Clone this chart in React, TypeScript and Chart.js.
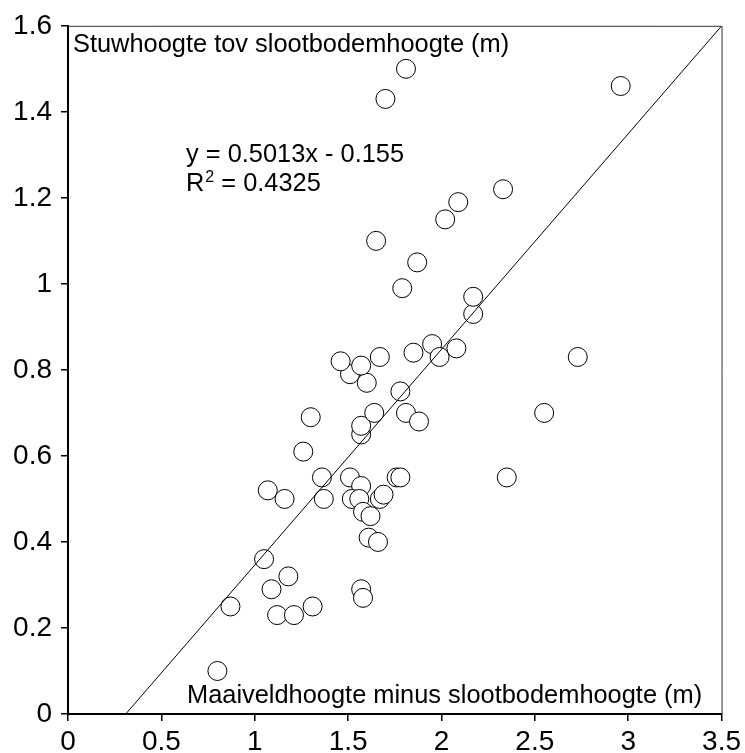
import React, { useEffect, useRef } from "react";
import { Chart, registerables } from "chart.js";

Chart.register(...registerables);

// Scatter data: x = Maaiveldhoogte minus slootbodemhoogte (m), y = Stuwhoogte tov slootbodemhoogte (m)
const xValues = [
  0.8, 0.87, 1.05, 1.09, 1.18, 1.12, 1.21, 1.31, 1.07, 1.16,
  1.36, 1.37, 1.26, 1.3, 1.51, 1.57, 1.52, 1.56, 1.67, 1.69,
  1.58, 1.62, 1.61, 1.66, 1.57, 1.58, 1.76, 1.78, 2.35, 1.57,
  1.57, 1.64, 1.81, 1.88, 2.55, 1.78, 1.6, 1.51, 1.46, 1.57,
  1.67, 1.85, 1.95, 1.99, 2.08, 2.73, 2.17, 2.17, 1.79, 1.87,
  1.65, 2.02, 2.09, 2.33, 1.7, 1.81, 2.96,
];
const yValues = [
  0.1, 0.25, 0.36, 0.29, 0.32, 0.23, 0.23, 0.25, 0.52, 0.5,
  0.55, 0.5, 0.61, 0.69, 0.55, 0.53, 0.5, 0.5, 0.5, 0.51,
  0.47, 0.46, 0.41, 0.4, 0.29, 0.27, 0.55, 0.55, 0.55, 0.65,
  0.67, 0.7, 0.7, 0.68, 0.7, 0.75, 0.77, 0.79, 0.82, 0.81,
  0.83, 0.84, 0.86, 0.83, 0.85, 0.83, 0.93, 0.97, 0.99, 1.05,
  1.1, 1.15, 1.19, 1.22, 1.43, 1.5, 1.46,
];

const slope = 0.5013;
const intercept = -0.155;
const rSquared = 0.4325;

const xTickValues = [0, 0.5, 1, 1.5, 2, 2.5, 3, 3.5];
const xTickLabels = ["0", "0.5", "1", "1.5", "2", "2.5", "3", "3.5"];
const yTickValues = [0, 0.2, 0.4, 0.6, 0.8, 1, 1.2, 1.4, 1.6];
const yTickLabels = ["0", "0.2", "0.4", "0.6", "0.8", "1", "1.2", "1.4", "1.6"];

const yTitle = "Stuwhoogte tov slootbodemhoogte (m)";
const xTitle = "Maaiveldhoogte minus slootbodemhoogte (m)";
const equationText = `y = ${slope}x - ${Math.abs(intercept)}`;
const rText = `= ${rSquared}`;

const FONT = "'Liberation Sans', Arial, Helvetica, sans-serif";

const labelFor = (vals: number[], labels: string[], v: number) => {
  const i = vals.findIndex((t) => Math.abs(t - v) < 1e-9);
  return i >= 0 ? labels[i] : "";
};

const annotPlugin = {
  id: "annot",
  afterDraw(chart: any) {
    const { ctx, chartArea } = chart;
    const { left, top, right, bottom } = chartArea;
    ctx.save();
    // top and right frame lines
    ctx.strokeStyle = "#333";
    ctx.lineWidth = 1;
    ctx.beginPath();
    ctx.moveTo(left, top + 0.5);
    ctx.lineTo(right + 0.5, top + 0.5);
    ctx.lineTo(right + 0.5, bottom);
    ctx.stroke();

    ctx.fillStyle = "#000";
    ctx.textBaseline = "alphabetic";
    ctx.textAlign = "left";
    ctx.font = `25.4px ${FONT}`;
    ctx.fillText(yTitle, left + 5, top + 26);
    ctx.fillText(xTitle, left + 119, bottom - 11);

    ctx.fillText(equationText, left + 118, top + 136);
    ctx.fillText("R", left + 118, top + 165);
    const rw = ctx.measureText("R").width;
    ctx.font = `16px ${FONT}`;
    ctx.fillText("2", left + 119 + rw, top + 156);
    const sw = ctx.measureText("2").width;
    ctx.font = `25.4px ${FONT}`;
    ctx.fillText(" " + rText, left + 119 + rw + sw, top + 165);
    ctx.restore();
  },
};

export default function App() {
  const canvasRef = useRef<HTMLCanvasElement | null>(null);

  useEffect(() => {
    document.body.style.margin = "0";
    const canvas = canvasRef.current;
    if (!canvas) return;

    const points = xValues.map((x, i) => ({ x, y: yValues[i] }));
    const xStart = -intercept / slope;
    const xEnd = 3.5;
    const fitLine = [
      { x: xStart, y: slope * xStart + intercept },
      { x: xEnd, y: slope * xEnd + intercept },
    ];

    const chart = new Chart(canvas, {
      type: "scatter",
      data: {
        datasets: [
          {
            type: "line",
            data: fitLine,
            borderColor: "#000",
            borderWidth: 1,
            pointRadius: 0,
            fill: false,
            order: 0,
          } as any,
          {
            type: "scatter",
            data: points,
            pointRadius: 9.5,
            pointHoverRadius: 9.5,
            pointBackgroundColor: "#fff",
            pointBorderColor: "#000",
            pointBorderWidth: 1,
            order: 1,
          } as any,
        ],
      },
      options: {
        responsive: false,
        animation: false,
        devicePixelRatio: 1,
        layout: { padding: { top: 23, right: 23, left: 0, bottom: 0 } },
        plugins: {
          legend: { display: false },
          tooltip: { enabled: false },
        },
        scales: {
          x: {
            type: "linear",
            min: 0,
            max: 3.5,
            afterBuildTicks: (scale: any) => {
              scale.ticks = xTickValues.map((v) => ({ value: v }));
            },
            afterFit: (scale: any) => {
              scale.height = 39;
            },
            ticks: {
              color: "#000",
              font: { family: FONT, size: 28 },
              padding: 4,
              maxRotation: 0,
              autoSkip: false,
              callback: (v: any) => labelFor(xTickValues, xTickLabels, Number(v)),
            },
            grid: {
              drawOnChartArea: false,
              drawTicks: true,
              tickLength: 7,
              color: "#000",
              lineWidth: 1.5,
            },
            border: { color: "#000", width: 2 },
          },
          y: {
            type: "linear",
            min: 0,
            max: 1.6,
            afterBuildTicks: (scale: any) => {
              scale.ticks = yTickValues.map((v) => ({ value: v }));
            },
            afterFit: (scale: any) => {
              scale.width = 68;
            },
            ticks: {
              color: "#000",
              font: { family: FONT, size: 28 },
              padding: 9,
              autoSkip: false,
              callback: (v: any) => labelFor(yTickValues, yTickLabels, Number(v)),
            },
            grid: {
              drawOnChartArea: false,
              drawTicks: true,
              tickLength: 7,
              color: "#000",
              lineWidth: 1.5,
            },
            border: { color: "#000", width: 2 },
          },
        },
      },
      plugins: [annotPlugin],
    });

    return () => {
      chart.destroy();
    };
  }, []);

  return (
    <div style={{ width: 745, height: 753 }}>
      <canvas ref={canvasRef} width={745} height={753} style={{ display: "block" }} />
    </div>
  );
}
